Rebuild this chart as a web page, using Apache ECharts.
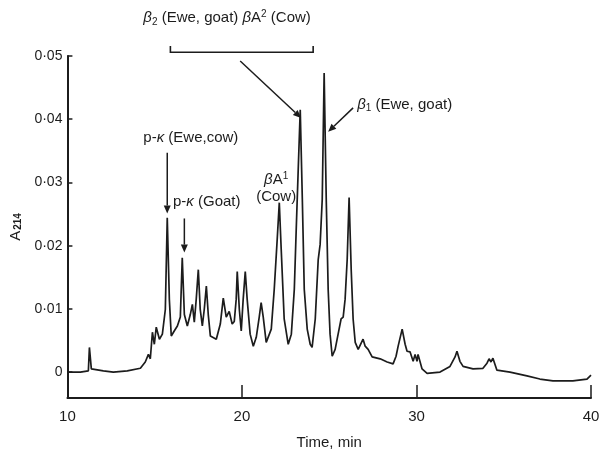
<!DOCTYPE html>
<html><head><meta charset="utf-8">
<script src="https://cdn.jsdelivr.net/npm/echarts@6/dist/echarts.min.js"></script>
<style>html,body{margin:0;padding:0;background:#fff}#c{width:605px;height:459px}</style>
</head><body><div id="c"></div>
<script>
// Retention time (min)
const timeMin = [10.00,10.74,11.20,11.26,11.37,12.06,12.63,13.43,14.18,14.46,14.64,14.75,14.87,14.98,15.09,15.27,15.44,15.61,15.72,15.84,15.95,16.12,16.30,16.47,16.58,16.70,16.87,17.04,17.16,17.27,17.38,17.50,17.61,17.73,17.84,17.96,18.07,18.19,18.53,18.76,18.93,19.10,19.27,19.44,19.56,19.67,19.73,19.85,19.96,20.07,20.19,20.30,20.47,20.65,20.82,20.99,21.10,21.22,21.39,21.50,21.68,21.85,22.02,22.14,22.25,22.42,22.65,22.83,23.00,23.11,23.23,23.34,23.46,23.57,23.74,23.91,24.02,24.20,24.37,24.48,24.60,24.71,24.83,24.94,25.05,25.17,25.34,25.51,25.68,25.80,25.91,26.03,26.14,26.26,26.37,26.49,26.66,26.94,27.06,27.23,27.46,27.92,28.32,28.66,28.83,28.95,29.18,29.35,29.46,29.63,29.81,29.92,30.03,30.09,30.32,30.61,31.35,31.92,32.21,32.32,32.49,32.67,33.24,33.81,34.04,34.16,34.27,34.38,34.61,35.36,36.33,37.07,37.82,38.96,39.77,40.00];
// Absorbance at 214 nm
const absorbance = [0.0000,0.0000,0.0002,0.0039,0.0005,0.0002,0.0000,0.0002,0.0006,0.0016,0.0028,0.0021,0.0063,0.0044,0.0071,0.0052,0.0060,0.0099,0.0244,0.0115,0.0057,0.0065,0.0073,0.0087,0.0181,0.0091,0.0073,0.0091,0.0107,0.0079,0.0115,0.0162,0.0099,0.0073,0.0099,0.0136,0.0091,0.0057,0.0052,0.0076,0.0117,0.0087,0.0096,0.0076,0.0080,0.0115,0.0159,0.0099,0.0065,0.0115,0.0159,0.0115,0.0060,0.0041,0.0055,0.0087,0.0110,0.0087,0.0047,0.0044,0.0068,0.0131,0.0210,0.0268,0.0194,0.0084,0.0044,0.0060,0.0131,0.0226,0.0325,0.0415,0.0273,0.0131,0.0068,0.0044,0.0039,0.0084,0.0178,0.0202,0.0273,0.0473,0.0273,0.0131,0.0060,0.0025,0.0036,0.0060,0.0084,0.0087,0.0115,0.0178,0.0276,0.0162,0.0084,0.0047,0.0036,0.0052,0.0041,0.0036,0.0024,0.0021,0.0016,0.0013,0.0025,0.0041,0.0068,0.0044,0.0033,0.0032,0.0017,0.0028,0.0017,0.0028,0.0005,-0.0002,0.0000,0.0009,0.0024,0.0033,0.0017,0.0009,0.0005,0.0006,0.0014,0.0021,0.0016,0.0022,0.0003,0.0000,-0.0006,-0.0011,-0.0014,-0.0014,-0.0011,-0.0005];
const xTickValues = [10, 20, 30, 40];
const yTickValues = [0, 0.01, 0.02, 0.03, 0.04, 0.05];

const FONT = '"Liberation Sans", Arial, sans-serif';
const INK = '#1c1c1c';
const chart = echarts.init(document.getElementById('c'), null, {renderer: 'canvas'});

chart.setOption({
  animation: false,
  backgroundColor: '#fff',
  grid: {left: 67, right: 14, top: 56, bottom: 61},
  xAxis: {
    type: 'value', min: 10, max: 40, interval: 10,
    name: 'Time, min', nameLocation: 'middle', nameGap: 37,
    nameTextStyle: {color: INK, fontSize: 15, fontFamily: FONT},
    axisLine: {show: true, onZero: false, lineStyle: {color: INK, width: 2}},
    axisTick: {show: true, inside: true, length: 13, lineStyle: {color: INK, width: 1.5}, customValues: xTickValues},
    axisLabel: {color: INK, fontSize: 15, fontFamily: FONT, margin: 11, customValues: xTickValues},
    splitLine: {show: false}
  },
  yAxis: {
    type: 'value', min: -0.0041, max: 0.05,
    name: '{a|A}{s|214}', nameLocation: 'middle', nameGap: 42, nameRotate: 90,
    nameTextStyle: {color: INK, fontFamily: FONT, rich: {
      a: {fontSize: 15, fontFamily: FONT, color: INK},
      s: {fontSize: 10, fontFamily: FONT, color: INK, fontWeight: 'bold', verticalAlign: 'bottom', padding: [6, 0, 0, 1]}
    }},
    axisLine: {show: true, onZero: false, lineStyle: {color: INK, width: 2}},
    axisTick: {show: true, inside: true, length: 5, lineStyle: {color: INK, width: 1.5}, customValues: yTickValues},
    axisLabel: {color: INK, fontSize: 14, fontFamily: FONT, margin: 5, customValues: yTickValues,
      formatter: v => Math.abs(v) < 1e-9 ? '0' : v.toFixed(2).replace('.', '·')},
    splitLine: {show: false}
  },
  series: [{
    type: 'line',
    data: timeMin.map((t, i) => [t, absorbance[i]]),
    symbol: 'none',
    lineStyle: {color: INK, width: 1.7},
    clip: false
  }]
});

// Annotations placed in data coordinates
const px = (t, v) => chart.convertToPixel({gridIndex: 0}, [t, v]);
const rich = {
  i: {fontSize: 15, fontFamily: FONT, fontStyle: 'italic', fill: INK},
  sub: {fontSize: 10, fontFamily: FONT, fill: INK, padding: [8, 0, 0, 0]},
  sup: {fontSize: 10, fontFamily: FONT, fill: INK, padding: [0, 0, 8, 0]}
};
function text(t, v, str, align) {
  const p = px(t, v);
  return {type: 'text', x: p[0], y: p[1], style: {text: str, rich: rich, fill: INK,
    font: '15px ' + FONT, align: align || 'left', verticalAlign: 'middle'}};
}
function arrow(a, b) {
  const p1 = px(a[0], a[1]), p2 = px(b[0], b[1]);
  const dx = p2[0] - p1[0], dy = p2[1] - p1[1], L = Math.hypot(dx, dy);
  const ux = dx / L, uy = dy / L, hl = 8, hw = 3.5;
  const bx = p2[0] - ux * hl, by = p2[1] - uy * hl;
  return [
    {type: 'line', shape: {x1: p1[0], y1: p1[1], x2: bx, y2: by}, style: {stroke: INK, lineWidth: 1.5}},
    {type: 'polygon', shape: {points: [[p2[0], p2[1]], [bx - uy * hw, by + ux * hw], [bx + uy * hw, by - ux * hw]]}, style: {fill: INK}}
  ];
}
const bl = px(15.90, 0.0516), br = px(24.08, 0.0516), bb = px(0, 0.0506)[1];
const elements = [
  text(14.35, 0.0560, '{i|β}{sub|2} (Ewe, goat) {i|β}A{sup|2} (Cow)'),
  {type: 'polyline', shape: {points: [[bl[0], bl[1]], [bl[0], bb], [br[0], bb], [br[0], br[1]]]}, style: {stroke: INK, lineWidth: 1.6, fill: null}},
  ...arrow([19.90, 0.0492], [23.39, 0.0402]),
  text(26.60, 0.0423, '{i|β}{sub|1} (Ewe, goat)'),
  ...arrow([26.37, 0.0418], [24.94, 0.0380]),
  text(14.35, 0.0371, 'p-{i|κ} (Ewe,cow)'),
  ...arrow([15.72, 0.0347], [15.72, 0.0251]),
  text(16.05, 0.0270, 'p-{i|κ} (Goat)'),
  ...arrow([16.70, 0.0243], [16.70, 0.0189]),
  text(21.96, 0.0304, '{i|β}A{sup|1}', 'center'),
  text(21.96, 0.0277, '(Cow)', 'center')
];
chart.setOption({graphic: {elements: elements}});
</script>
</body></html>
